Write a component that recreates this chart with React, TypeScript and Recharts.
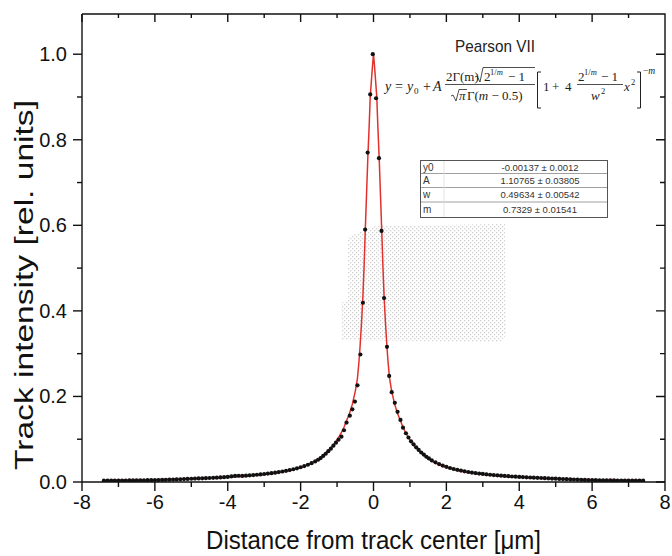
import React from 'react';
import { ComposedChart, Line, Scatter, XAxis, YAxis } from 'recharts';

// Measured track profile (black points)
const measX = [
  -7.4, -7.3, -7.2, -7.1, -7.0, -6.9, -6.8, -6.7, -6.6, -6.5, -6.4, -6.3, -6.2, -6.1, -6.0,
  -5.9, -5.8, -5.7, -5.6, -5.5, -5.4, -5.3, -5.2, -5.1, -5.0, -4.9, -4.8, -4.7, -4.6, -4.5,
  -4.4, -4.3, -4.2, -4.1, -4.0, -3.9, -3.8, -3.7, -3.6, -3.5, -3.4, -3.3, -3.2, -3.1, -3.0,
  -2.9, -2.8, -2.7, -2.6, -2.5, -2.4, -2.3, -2.2, -2.1, -2.0, -1.9, -1.8, -1.7, -1.6,
  -1.52, -1.45, -1.38, -1.31, -1.24, -1.17, -1.10, -1.03, -0.96, -0.88, -0.81, -0.74, -0.65,
  -0.58, -0.51, -0.44, -0.36, -0.29, -0.23, -0.16, -0.09, -0.02,
  0.07, 0.15, 0.22, 0.29, 0.37, 0.43, 0.50, 0.585, 0.66, 0.74, 0.81, 0.89, 0.96, 1.03, 1.10,
  1.17, 1.24, 1.31, 1.38, 1.45, 1.52,
  1.6, 1.7, 1.8, 1.9, 2.0, 2.1, 2.2, 2.3, 2.4, 2.5, 2.6, 2.7, 2.8, 2.9, 3.0, 3.1, 3.2, 3.3,
  3.4, 3.5, 3.6, 3.7, 3.8, 3.9, 4.0, 4.1, 4.2, 4.3, 4.4, 4.5, 4.6, 4.7, 4.8, 4.9, 5.0, 5.1,
  5.2, 5.3, 5.4, 5.5, 5.6, 5.7, 5.8, 5.9, 6.0, 6.1, 6.2, 6.3, 6.4, 6.5, 6.6, 6.7, 6.8, 6.9,
  7.0, 7.1, 7.2, 7.3, 7.4,
];
const measY = [
  0.0030, 0.0031, 0.0031, 0.0032, 0.0033, 0.0034, 0.0035, 0.0036, 0.0037, 0.0038, 0.0039, 0.0040, 0.0042, 0.0043, 0.0045,
  0.0047, 0.0049, 0.0051, 0.0054, 0.0057, 0.0060, 0.0064, 0.0068, 0.0072, 0.0076, 0.0080, 0.0083, 0.0086, 0.0089, 0.0093,
  0.0097, 0.0102, 0.0107, 0.0113, 0.0118, 0.0130, 0.0142, 0.0146, 0.0143, 0.0148, 0.0155, 0.0162, 0.0170, 0.0178, 0.0187,
  0.0196, 0.0207, 0.0219, 0.0232, 0.0246, 0.0262, 0.0279, 0.0298, 0.0320, 0.0345, 0.0372, 0.0403, 0.0440, 0.0482,
  0.052, 0.056, 0.061, 0.066, 0.072, 0.078, 0.085, 0.092, 0.099, 0.106, 0.121, 0.139, 0.155,
  0.170, 0.188, 0.226, 0.298, 0.419, 0.590, 0.770, 0.906, 1.000,
  0.897, 0.757, 0.587, 0.430, 0.316, 0.248, 0.210, 0.185, 0.164, 0.145, 0.127, 0.114, 0.104, 0.095, 0.088,
  0.081, 0.075, 0.069, 0.064, 0.059, 0.055,
  0.0505, 0.0460, 0.0420, 0.0385, 0.0354, 0.0327, 0.0304, 0.0284, 0.0266, 0.0249, 0.0234, 0.0221, 0.0209, 0.0198, 0.0188, 0.0179, 0.0170, 0.0162,
  0.0155, 0.0148, 0.0141, 0.0135, 0.0129, 0.0124, 0.0119, 0.0114, 0.0109, 0.0105, 0.0101, 0.0097, 0.0093, 0.0089, 0.0085, 0.0081, 0.0077, 0.0073,
  0.0069, 0.0065, 0.0061, 0.0058, 0.0055, 0.0052, 0.0049, 0.0047, 0.0045, 0.0043, 0.0041, 0.0040, 0.0038, 0.0037, 0.0036, 0.0035, 0.0034, 0.0033,
  0.0032, 0.0031, 0.0031, 0.0030, 0.0030,
];

// Pearson VII fit (red curve)
const fitX = [
  -7.45, -7, -6.5, -6, -5.5, -5, -4.5, -4, -3.5, -3, -2.7, -2.4, -2.2, -2, -1.8, -1.6, -1.4, -1.2, -1.1, -1,
  -0.89, -0.81, -0.74, -0.66, -0.58, -0.5, -0.44, -0.4, -0.37, -0.33, -0.29, -0.26, -0.225, -0.19, -0.155,
  -0.12, -0.09, -0.06, -0.03, 0,
  0.03, 0.06, 0.09, 0.12, 0.155, 0.19, 0.225, 0.26, 0.29, 0.33, 0.37, 0.4, 0.44, 0.5, 0.58, 0.66, 0.74, 0.81,
  0.89, 1, 1.1, 1.2, 1.4, 1.6, 1.8, 2, 2.2, 2.4, 2.7, 3, 3.5, 4, 4.5, 5, 5.5, 6, 6.5, 7, 7.45,
];
const fitY = [
  0.0036, 0.0040, 0.0046, 0.0053, 0.0062, 0.0074, 0.0088, 0.0110, 0.0135, 0.0175, 0.0205, 0.025, 0.029, 0.034, 0.040, 0.049, 0.061, 0.077, 0.087, 0.098,
  0.114, 0.128, 0.143, 0.160, 0.182, 0.212, 0.243, 0.280, 0.315, 0.370, 0.435, 0.500, 0.590, 0.675, 0.760,
  0.830, 0.900, 0.935, 0.970, 1.000,
  0.970, 0.935, 0.900, 0.830, 0.760, 0.675, 0.590, 0.500, 0.435, 0.370, 0.315, 0.280, 0.243, 0.212, 0.182, 0.160, 0.143, 0.128,
  0.114, 0.098, 0.087, 0.077, 0.061, 0.049, 0.040, 0.034, 0.029, 0.025, 0.0205, 0.0175, 0.0135, 0.0110, 0.0088, 0.0074, 0.0062, 0.0053, 0.0046, 0.0040, 0.0036,
];

const xDomain = [-8, 8];
const yDomain = [0, 1.094];
const xTicks = [-8, -7, -6, -5, -4, -3, -2, -1, 0, 1, 2, 3, 4, 5, 6, 7, 8];
const yTicks = [0, 0.1, 0.2, 0.3, 0.4, 0.5, 0.6, 0.7, 0.8, 0.9, 1.0];

const xTitle = 'Distance from track center [\u03bcm]';
const yTitle = 'Track intensity [rel. units]';
const fitName = 'Pearson VII';
const paramNames = ['y0', 'A', 'w', 'm'];
const paramValues = ['-0.00137 \u00b1 0.0012', '1.10765 \u00b1 0.03805', '0.49634 \u00b1 0.00542', '0.7329 \u00b1 0.01541'];

const measData = measX.map((x, i) => ({ x, y: measY[i] }));
const fitData = fitX.map((x, i) => ({ x, y: fitY[i] }));

// layout of the plot frame
const W = 672;
const H = 556;
const M_TOP = 14;
const M_RIGHT = 7;
const Y_AXIS_W = 82;
const X_AXIS_H = 74;
const P_LEFT = Y_AXIS_W;
const P_RIGHT = W - M_RIGHT;
const P_TOP = M_TOP;
const P_BOTTOM = H - X_AXIS_H;

const AX = '#111111';
const sans = '"Liberation Sans", Arial, sans-serif';
const serif = '"Liberation Serif", "DejaVu Serif", serif';

const isMajorX = (v: number) => Math.round(v) % 2 === 0;
const isMajorY = (v: number) => Math.round(v * 10) % 2 === 0;

function BottomTick(props: any) {
  const { x, y, payload } = props;
  const v = payload.value;
  const major = isMajorX(v);
  return (
    <g>
      <line x1={x} x2={x} y1={y} y2={y + (major ? 9 : 5)} stroke={AX} strokeWidth={1.4} />
      {major && (
        <text x={x} y={y + 27} textAnchor="middle" fontSize={20} fontFamily={sans} fill="#111">
          {String(v)}
        </text>
      )}
    </g>
  );
}
function LeftTick(props: any) {
  const { x, y, payload } = props;
  const v = payload.value;
  const major = isMajorY(v);
  return (
    <g>
      <line x1={x - (major ? 9 : 5)} x2={x} y1={y} y2={y} stroke={AX} strokeWidth={1.4} />
      {major && (
        <text x={x - 15} y={y + 7} textAnchor="end" fontSize={20} fontFamily={sans} fill="#111">
          {v.toFixed(1)}
        </text>
      )}
    </g>
  );
}

const renderXTitle = () => (
  <text x={373.5} y={549} textAnchor="middle" fontSize={25} fontFamily={sans} fill="#111"
    textLength={335} lengthAdjust="spacingAndGlyphs">{xTitle}</text>
);
const renderYTitle = () => (
  <text transform="translate(33,285) rotate(-90)" textAnchor="middle" fontSize={25} fontFamily={sans} fill="#111"
    textLength={370} lengthAdjust="spacingAndGlyphs">{yTitle}</text>
);

const Dot = (p: any) => <circle cx={p.cx} cy={p.cy} r={2.1} fill="#111" />;

// frame path: top edge + right edge with inward mirror ticks
const sx = (v: number) => P_LEFT + ((v - xDomain[0]) / (xDomain[1] - xDomain[0])) * (P_RIGHT - P_LEFT);
const sy = (v: number) => P_BOTTOM - ((v - yDomain[0]) / (yDomain[1] - yDomain[0])) * (P_BOTTOM - P_TOP);
const framePath =
  `M${P_LEFT},${P_TOP} H${P_RIGHT} V${P_BOTTOM} ` +
  xTicks.map((v) => `M${sx(v)},${P_TOP} v${isMajorX(v) ? 8 : 4}`).join(' ') + ' ' +
  yTicks.map((v) => `M${P_RIGHT},${sy(v)} h${isMajorY(v) ? -9 : -5}`).join(' ');

function Formula() {
  const c = '#222';
  return (
    <g fill={c} fontFamily={serif}>
      <path d={framePath} fill="none" stroke="#111" strokeWidth={1.4} />
      <text x={455} y={52} fontSize={17} fontFamily={sans} fill="#222" textLength={80} lengthAdjust="spacingAndGlyphs">{fitName}</text>
      <text x={385} y={91} fontSize={14} fontStyle="italic">y</text>
      <text x={395} y={91} fontSize={14}>=</text>
      <text x={407} y={91} fontSize={14} fontStyle="italic">y</text>
      <text x={414} y={94} fontSize={9}>0</text>
      <text x={423} y={91} fontSize={14}>+</text>
      <text x={433} y={91} fontSize={14} fontStyle="italic">A</text>
      <text x={446} y={81} fontSize={13}>2Γ(m)</text>
      <path d="M475,77 L477,76 L480,82 L483,67.5 L535,67.5" stroke={c} fill="none" strokeWidth={0.8} />
      <text x={484} y={81} fontSize={13}>2</text>
      <text x={490} y={75} fontSize={8.5}>1/<tspan fontStyle="italic">m</tspan></text>
      <text x={508} y={81} fontSize={13}>− 1</text>
      <line x1={445} x2={535} y1={84.5} y2={84.5} stroke={c} strokeWidth={0.8} />
      <path d="M451,96 L453,95 L456,101 L459,89.5 L467,89.5" stroke={c} fill="none" strokeWidth={0.8} />
      <text x={459} y={100} fontSize={13} fontStyle="italic">π</text>
      <text x={467} y={100} fontSize={13}>Γ(<tspan fontStyle="italic">m</tspan> − 0.5)</text>
      <path d="M541,72 L537.5,72 L537.5,108 L541,108" stroke={c} fill="none" strokeWidth={1} />
      <text x={543} y={91} fontSize={13}>1</text>
      <text x={552} y={91} fontSize={13}>+</text>
      <text x={565} y={91} fontSize={13}>4</text>
      <text x={578} y={81} fontSize={13}>2</text>
      <text x={584} y={75} fontSize={8.5}>1/<tspan fontStyle="italic">m</tspan></text>
      <text x={601} y={81} fontSize={13}>− 1</text>
      <line x1={577} x2={623} y1={84.5} y2={84.5} stroke={c} strokeWidth={0.8} />
      <text x={591} y={100} fontSize={13} fontStyle="italic">w</text>
      <text x={601} y={94} fontSize={8.5}>2</text>
      <text x={624} y={91} fontSize={13} fontStyle="italic">x</text>
      <text x={631} y={85} fontSize={8.5}>2</text>
      <path d="M637,72 L640.5,72 L640.5,108 L637,108" stroke={c} fill="none" strokeWidth={1} />
      <text x={643} y={74} fontSize={9.5}>−<tspan fontStyle="italic">m</tspan></text>
    </g>
  );
}

function ParamTable() {
  const rows = [160, 173.5, 187.5, 202, 217];
  return (
    <g fontFamily={sans}>
      <rect x={420.5} y={160.5} width={187} height={57} fill="#fff" stroke="#555" strokeWidth={1} />
      {rows.slice(1, 4).map((ry) => (
        <line key={ry} x1={421} x2={607} y1={ry} y2={ry} stroke="#888" strokeWidth={0.8} />
      ))}
      <line x1={444} x2={444} y1={161} y2={217} stroke="#ddd" strokeWidth={0.8} />
      {paramNames.map((n, i) => (
        <text key={n} x={423} y={rows[i] + 10.5} fontSize={10} fill="#333">{n}</text>
      ))}
      {paramValues.map((v, i) => (
        <text key={v} x={540} y={rows[i] + 10.5} fontSize={9.5} fill="#333" textAnchor="middle">{v}</text>
      ))}
    </g>
  );
}

export default function App() {
  return (
    <div style={{ position: 'absolute', left: 0, top: 0, width: W, height: H, background: '#fff' }}>
      <svg width={W} height={H} style={{ position: 'absolute', left: 0, top: 0 }}>
        <defs>
          <pattern id="stip" width={4} height={4} patternUnits="userSpaceOnUse">
            <rect x={0} y={0} width={1.3} height={1.3} fill="#b0b0b0" />
            <rect x={2} y={2} width={1.3} height={1.3} fill="#b0b0b0" />
          </pattern>
        </defs>
        <path d="M348,237 L375,226 L505,224 L506,335 L500,342 L342,340 L341,303 L348,300 Z" fill="url(#stip)" opacity={0.6} />
      </svg>
      <div style={{ position: 'absolute', left: 0, top: 0 }}>
        <ComposedChart width={W} height={H} data={measData} margin={{ top: M_TOP, right: M_RIGHT, bottom: 0, left: 0 }}>
          <XAxis dataKey="x" type="number" domain={xDomain} ticks={xTicks} interval={0} height={X_AXIS_H}
            tickSize={0} tickMargin={0} tick={<BottomTick />} tickLine={false}
            axisLine={{ stroke: AX, strokeWidth: 1.4 }} allowDataOverflow
            label={{ content: renderXTitle }} />
          <YAxis type="number" domain={yDomain} ticks={yTicks} interval={0} width={Y_AXIS_W}
            tickSize={0} tickMargin={0} tick={<LeftTick />} tickLine={false}
            axisLine={{ stroke: AX, strokeWidth: 1.4 }} allowDataOverflow
            label={{ content: renderYTitle }} />
          <Line data={fitData} dataKey="y" type="linear" stroke="#e2312c" strokeWidth={1.5} dot={false}
            isAnimationActive={false} />
          <Scatter data={measData} dataKey="y" shape={Dot} isAnimationActive={false} />
        </ComposedChart>
      </div>
      <svg width={W} height={H} style={{ position: 'absolute', left: 0, top: 0, pointerEvents: 'none' }}>
        <Formula />
        <ParamTable />
      </svg>
    </div>
  );
}
